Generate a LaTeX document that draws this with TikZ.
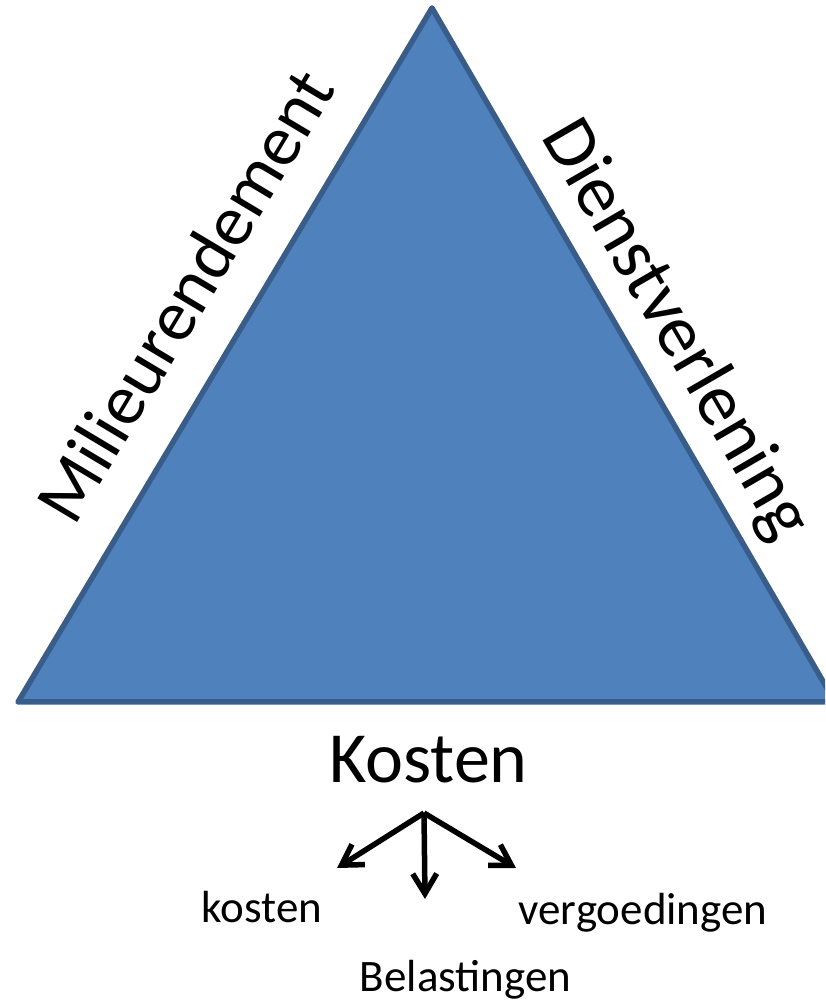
\documentclass[tikz,border=0pt]{standalone}
\usepackage{fontspec}
\setmainfont{Carlito}
\usetikzlibrary{arrows.meta}
\definecolor{triFill}{HTML}{4F81BD}
\definecolor{triLine}{HTML}{385D8A}
\tikzset{
  big/.style={font=\fontsize{72}{86}\selectfont, inner sep=0pt, anchor=base},
  bigger/.style={font=\fontsize{74}{88}\selectfont, inner sep=0pt, anchor=base},
  small/.style={font=\fontsize{45}{54}\selectfont, inner sep=0pt, anchor=base},
  arr/.style={line width=5.5pt, -{Straight Barb[length=20pt,width=24pt,line width=5.5pt]}, line join=miter}
}
\begin{document}
\begin{tikzpicture}[x=1pt,y=1pt]
\useasboundingbox (0,0) rectangle (825,1003);
% triangle corners (y = 1003 - image y)
\coordinate (L) at (18,301);
\coordinate (A) at (432,995);
\coordinate (R) at (835,301);
\begin{scope}
\clip (0,0) rectangle (825,1003);
\draw[fill=triFill, draw=triLine, line width=5.5pt, line join=round] (L) -- (A) -- (R) -- cycle;
\end{scope}
% side labels
\node[big, rotate=59.13] (milieu) at (206,695) {Milieurendement};
\node[bigger, rotate=-59.9] (dienst) at (658.3,662.9) {Dienstverlening};
% cost labels
\node[big] (kosten) at (428.5,220) {Kosten};
\coordinate (split) at (424,190);
\coordinate (tipL) at (337,135);
\coordinate (tipD) at (425,104);
\coordinate (tipR) at (516,135);
\draw[arr] (split) -- (tipL);
\draw[arr] (split) -- (tipD);
\draw[arr] (split) -- (tipR);
\node[small] (k2) at (262,80) {kosten};
\node[small] (verg) at (643,78) {vergoedingen};
\node[small] (bel) at (465.5,11) {Belastingen};
\end{tikzpicture}
\end{document}
